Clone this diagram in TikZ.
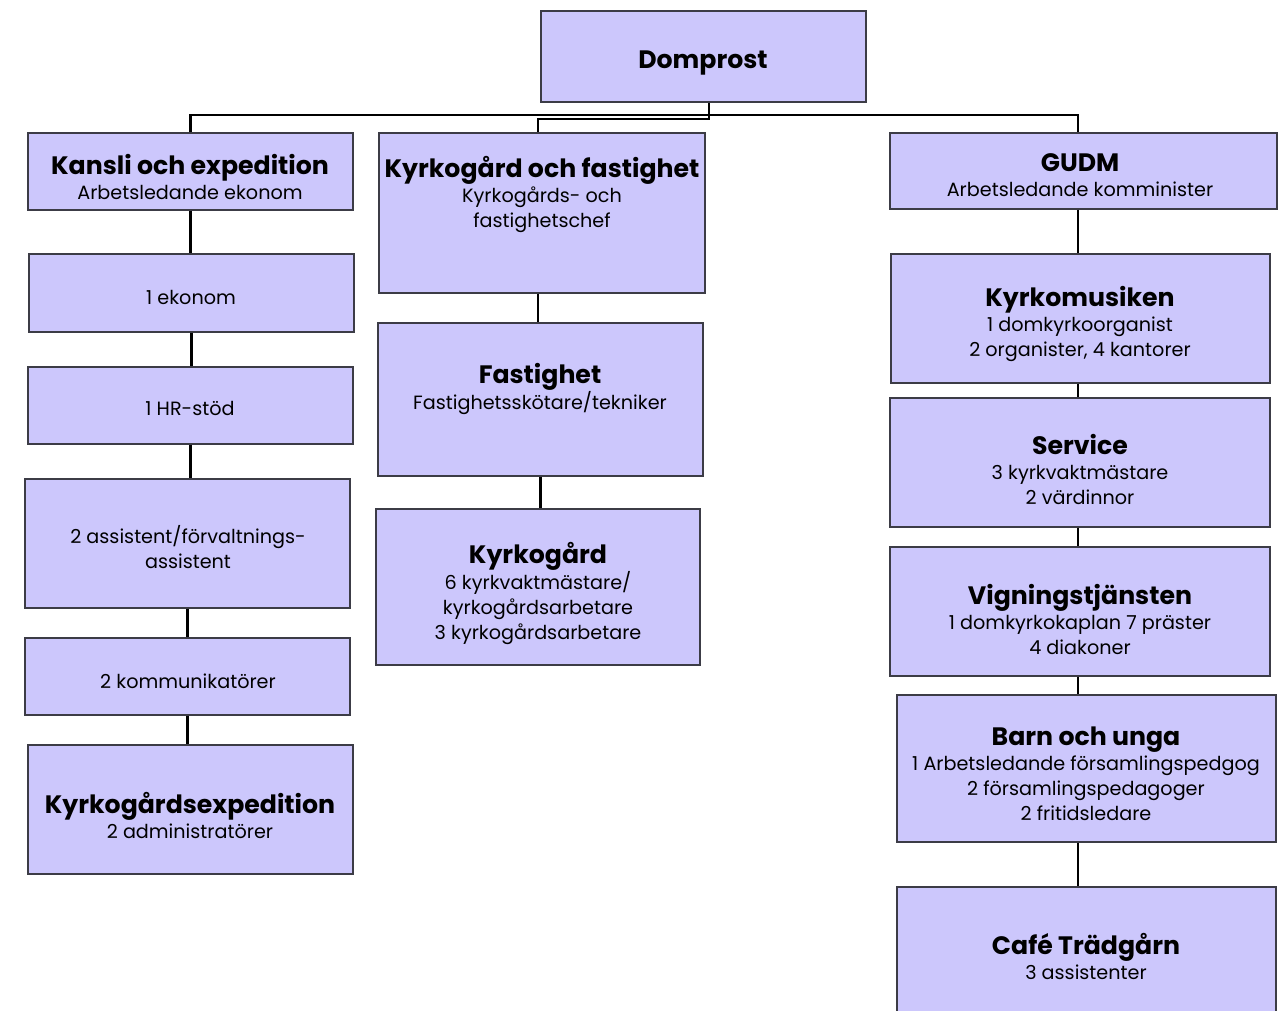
\documentclass[tikz,border=0pt]{standalone}
\usepackage{fontspec}
\setmainfont{Poppins}
\definecolor{boxfill}{RGB}{204,199,252}
\definecolor{boxline}{RGB}{60,60,70}
\newcommand{\ttl}[1]{{\fontsize{25.2}{27}\selectfont\bfseries #1}}

\begin{document}
\begin{tikzpicture}
            [x=1pt,y=-1pt,
             box/.style={rectangle,draw=boxline,line width=1.2pt,fill=boxfill,inner sep=0pt},
             lbl/.style={align=center,inner sep=0pt,font=\fontsize{19.2}{25}\selectfont},
             conn/.style={line width=2.4pt,black}]
            \useasboundingbox (0,0) rectangle (1280,1011);
            % boxes
            \node[box,minimum width=325,minimum height=91] (domprost) at (703.5,56.5) {};
            \node[box,minimum width=325,minimum height=77] (kansli) at (190.5,171.5) {};
            \node[box,minimum width=326,minimum height=160] (kfast) at (542,213) {};
            \node[box,minimum width=387,minimum height=76] (gudm) at (1083.5,171) {};
            \node[box,minimum width=325,minimum height=78] (ekonom) at (191.5,293) {};
            \node[box,minimum width=325,minimum height=77] (hr) at (190.5,405.5) {};
            \node[box,minimum width=325,minimum height=129] (assist) at (187.5,543.5) {};
            \node[box,minimum width=325,minimum height=77] (komm) at (187.5,676.5) {};
            \node[box,minimum width=325,minimum height=129] (kexp) at (190.5,809.5) {};
            \node[box,minimum width=325,minimum height=153] (fast) at (540.5,399.5) {};
            \node[box,minimum width=324,minimum height=156] (kgard) at (538,587) {};
            \node[box,minimum width=379,minimum height=129] (musik) at (1080.5,318.5) {};
            \node[box,minimum width=380,minimum height=129] (service) at (1080,462.5) {};
            \node[box,minimum width=380,minimum height=129] (vign) at (1080,611.5) {};
            \node[box,minimum width=379,minimum height=147] (barn) at (1086.5,768.5) {};
            \node[box,minimum width=379,minimum height=153] (cafe) at (1086.5,963.5) {};
            % texts
            \node[lbl] (domprost-t) at (703,63) {\ttl{Domprost}};
            \node[lbl] (kansli-t) at (190,177) {\ttl{Kansli och expedition}\\Arbetsledande ekonom};
            \node[lbl] (kfast-t) at (542,194) {\ttl{Kyrkogård och fastighet}\\Kyrkogårds- och\\fastighetschef};
            \node[lbl] (gudm-t) at (1080,175) {\ttl{GUDM}\\Arbetsledande komminister};
            \node[lbl] (ekonom-t) at (191,297) {1 ekonom};
            \node[lbl] (hr-t) at (190,408) {1 HR-stöd};
            \node[lbl] (assist-t) at (188,547) {2 assistent/förvaltnings-\\assistent};
            \node[lbl] (komm-t) at (188,681) {2 kommunikatörer};
            \node[lbl] (kexp-t) at (190,815) {\ttl{Kyrkogårdsexpedition}\\2 administratörer};
            \node[lbl] (fast-t) at (540,389) {\ttl{Fastighet}\\Fastighetsskötare/tekniker};
            \node[lbl] (kgard-t) at (538,593) {\ttl{Kyrkogård}\\6 kyrkvaktmästare/\\kyrkogårdsarbetare\\3 kyrkogårdsarbetare};
            \node[lbl] (musik-t) at (1080,324) {\ttl{Kyrkomusiken}\\1 domkyrkoorganist\\2 organister, 4 kantorer};
            \node[lbl] (service-t) at (1080,469) {\ttl{Service}\\3 kyrkvaktmästare\\2 värdinnor};
            \node[lbl] (vign-t) at (1080,619) {\ttl{Vigningstjänsten}\\1 domkyrkokaplan 7 präster\\4 diakoner};
            \node[lbl] (barn-t) at (1086,774) {\ttl{Barn och unga}\\1 Arbetsledande församlingspedgog\\2 församlingspedagoger\\2 fritidsledare};
            \node[lbl] (cafe-t) at (1086,956) {\ttl{Café Trädgårn}\\3 assistenter};
            % lines from the top
            \coordinate (hub) at (709,115);
            \draw[conn] ([xshift=5.5]domprost.south) -- (hub);
            \draw[conn] (kansli.north) |- (hub) -| ([xshift=-5.5]gudm.north);
            \draw[conn] (hub) -- ++(0,4) -| ([xshift=-4]kfast.north);
            % columns
            \draw[conn] (kansli.south) -- (kansli.south |- ekonom.north);
            \draw[conn] (ekonom.south) -- (ekonom.south |- hr.north);
            \draw[conn] (hr.south) -- (hr.south |- assist.north);
            \draw[conn] (assist.south) -- (assist.south |- komm.north);
            \draw[conn] (komm.south) -- (komm.south |- kexp.north);
            \draw[conn] ([xshift=-4]kfast.south) -- ([xshift=-4]kfast.south |- fast.north);
            \draw[conn] (fast.south) -- (fast.south |- kgard.north);
            \draw[conn] ([xshift=-5.5]gudm.south) -- ([xshift=-5.5]gudm.south |- musik.north);
            \draw[conn] ([xshift=-2.5]musik.south) -- ([xshift=-2.5]musik.south |- service.north);
            \draw[conn] ([xshift=-2]service.south) -- ([xshift=-2]service.south |- vign.north);
            \draw[conn] ([xshift=-2]vign.south) -- ([xshift=-2]vign.south |- barn.north);
            \draw[conn] ([xshift=-8.5]barn.south) -- ([xshift=-8.5]barn.south |- cafe.north);
        \end{tikzpicture}
\end{document}
